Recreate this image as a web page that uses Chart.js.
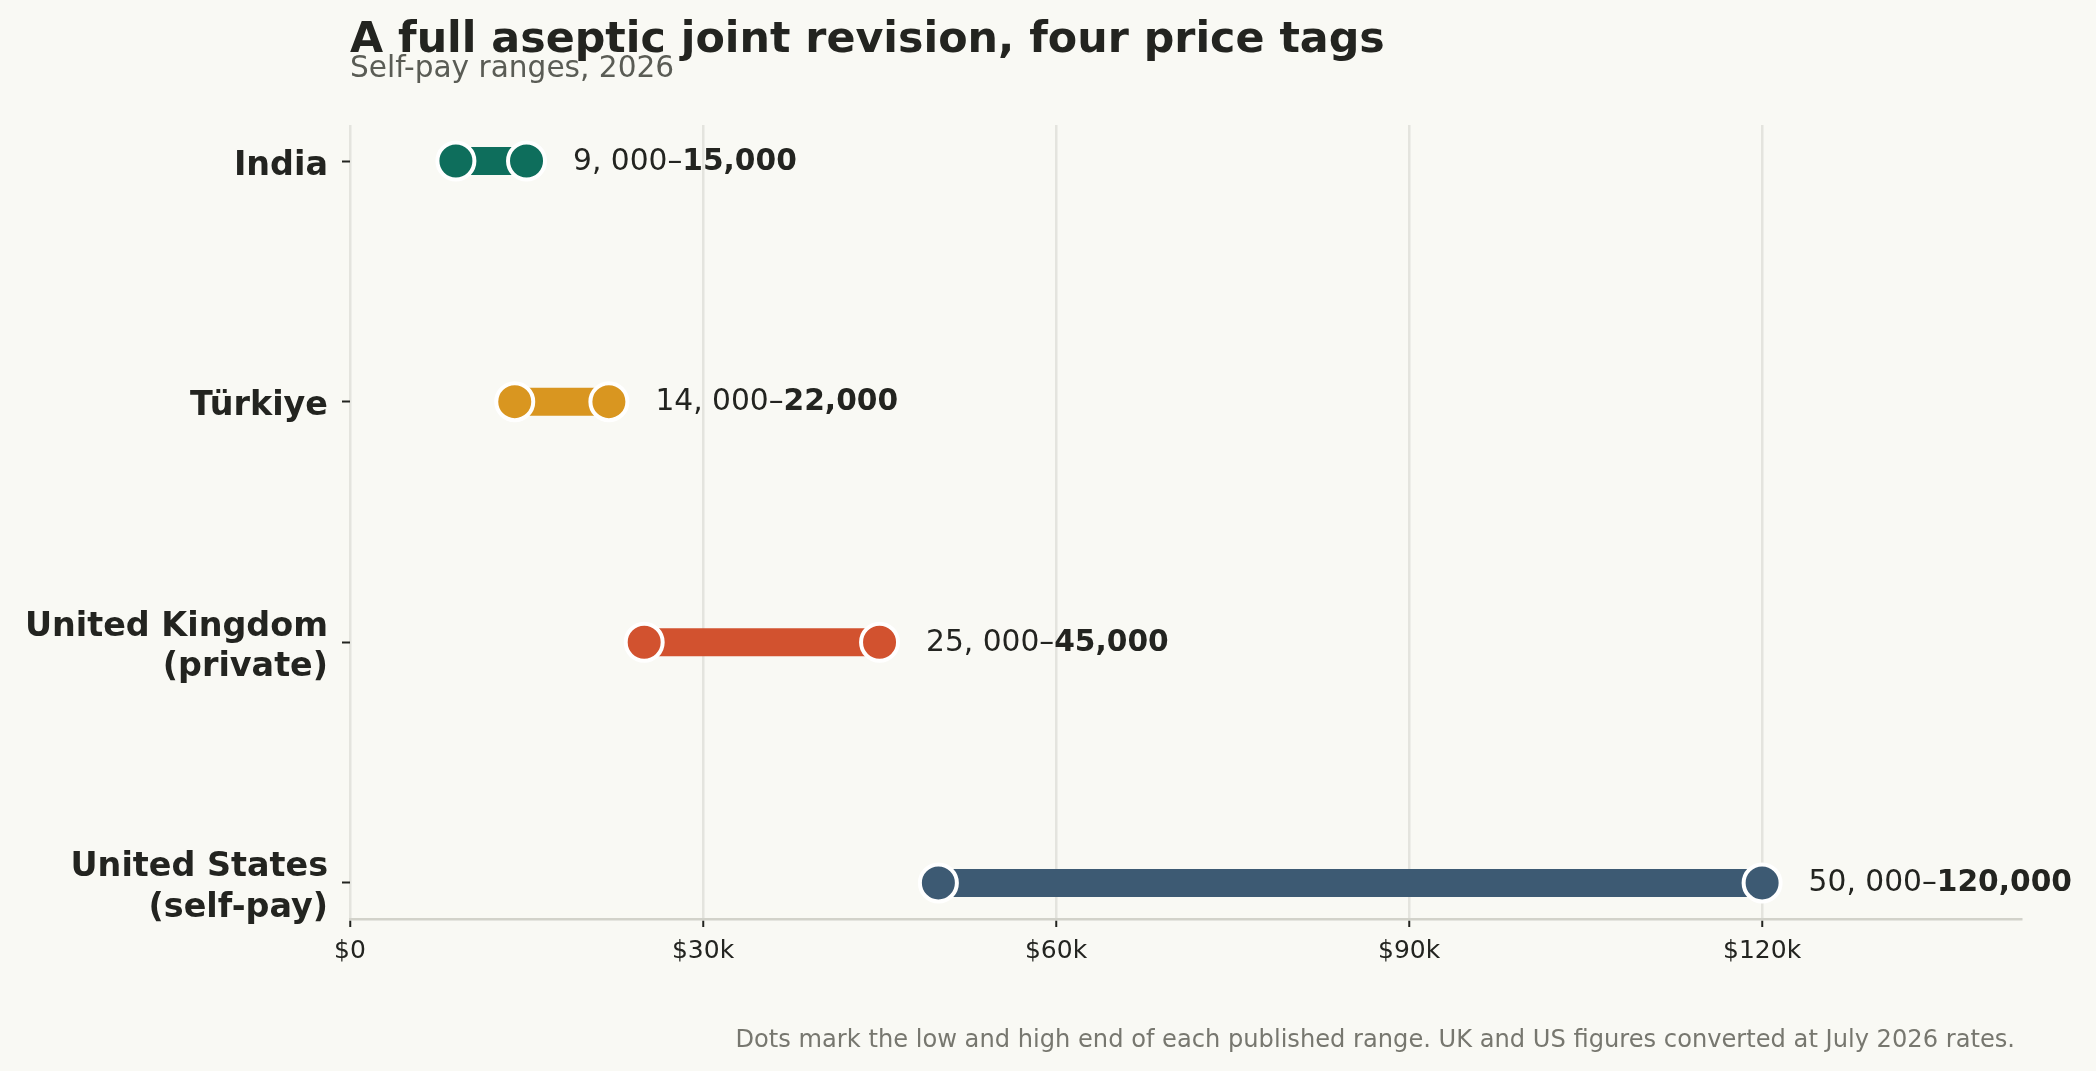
<!DOCTYPE html>
<html>
<head>
<meta charset="utf-8">
<script src="https://cdn.jsdelivr.net/npm/chart.js@4.4.1/dist/chart.umd.min.js"></script>
<style>
  html, body { margin: 0; padding: 0; background: #f9f9f4; }
  #wrap { width: 2096px; height: 1071px; position: relative; }
</style>
</head>
<body>
<div id="wrap"><canvas id="c"></canvas></div>
<script>
// ---- data ----
const categories = ['India', 'Türkiye', 'United Kingdom (private)', 'United States (self-pay)'];
const categoryLabelLines = [['India'], ['Türkiye'], ['United Kingdom', '(private)'], ['United States', '(self-pay)']];
const lowValues = [9000, 14000, 25000, 50000];
const highValues = [15000, 22000, 45000, 120000];
const xTickValues = [0, 30000, 60000, 90000, 120000];
const xTickLabels = ['$0', '$30k', '$60k', '$90k', '$120k'];
const titleText = 'A full aseptic joint revision, four price tags';
const subtitleText = 'Self-pay ranges, 2026';
const footerText = 'Dots mark the low and high end of each published range. UK and US figures converted at July 2026 rates.';

// ---- styles ----
const seriesColors = ['#0e6e5c', '#d99620', '#d2522f', '#3d5a73'];
const FONT = "'DejaVu Sans', 'Liberation Sans', sans-serif";
const INK = '#232420';

Chart.defaults.font.family = FONT;

const barDatasets = categories.map((c, i) => ({
  type: 'line',
  label: c,
  data: [{ x: lowValues[i], y: i }, { x: highValues[i], y: i }],
  showLine: true,
  borderColor: seriesColors[i],
  backgroundColor: seriesColors[i],
  borderWidth: 28,
  borderCapStyle: 'butt',
  pointRadius: 0,
  pointHoverRadius: 0,
  order: 1,
  clip: false
}));

const dotStyle = {
  type: 'scatter',
  showLine: false,
  pointRadius: 18.5,
  pointHoverRadius: 18.5,
  pointBorderColor: '#ffffff',
  pointBorderWidth: 4,
  pointBackgroundColor: seriesColors,
  order: 0,
  clip: false
};
const lowDots = Object.assign({ label: 'Low', data: lowValues.map((v, i) => ({ x: v, y: i })) }, dotStyle);
const highDots = Object.assign({ label: 'High', data: highValues.map((v, i) => ({ x: v, y: i })) }, dotStyle);

const rangeLabels = {
  id: 'rangeLabels',
  afterDatasetsDraw(chart) {
    const { ctx, scales } = chart;
    const xs = scales.x, ys = scales.y;
    ctx.save();
    ctx.textBaseline = 'alphabetic';
    ctx.textAlign = 'left';
    ctx.fillStyle = INK;
    categories.forEach((c, i) => {
      const x = xs.getPixelForValue(highValues[i]) + 46.5;
      const y = ys.getPixelForValue(i) + 8.5;
      const lowTxt = lowValues[i].toLocaleString('en-US').replace(',', ', ') + '–';
      const highTxt = highValues[i].toLocaleString('en-US');
      ctx.font = 'normal 29.7px ' + FONT;
      ctx.fillText(lowTxt, x, y);
      const w = ctx.measureText(lowTxt).width;
      ctx.font = 'bold 29.7px ' + FONT;
      ctx.fillText(highTxt, x + w, y);
    });
    ctx.restore();
  }
};

const footer = {
  id: 'footer',
  afterDraw(chart) {
    const { ctx } = chart;
    ctx.save();
    ctx.font = 'normal 24.15px ' + FONT;
    ctx.fillStyle = '#77776f';
    ctx.textAlign = 'right';
    ctx.textBaseline = 'alphabetic';
    ctx.fillText(footerText, chart.width - 81, chart.height - 24.3);
    ctx.restore();
  }
};

new Chart(document.getElementById('c'), {
  type: 'scatter',
  data: { datasets: [lowDots, highDots, ...barDatasets] },
  options: {
    responsive: true,
    maintainAspectRatio: false,
    animation: false,
    events: [],
    layout: { padding: { top: 0, right: 75, bottom: 0, left: 0 } },
    plugins: {
      legend: { display: false },
      tooltip: { enabled: false },
      title: {
        display: true,
        text: titleText,
        align: 'start',
        fullSize: false,
        color: INK,
        font: { size: 42.8, weight: 'bold', lineHeight: 0.7 },
        padding: { top: 25.85, bottom: 0 }
      },
      subtitle: {
        display: true,
        text: subtitleText,
        align: 'start',
        fullSize: false,
        color: '#5a5c55',
        font: { size: 29.6, weight: 'normal', lineHeight: 0.8 },
        padding: { top: 1.85, bottom: 43.6 }
      }
    },
    scales: {
      x: {
        type: 'linear',
        position: 'bottom',
        min: 0,
        max: 142000,
        afterBuildTicks: (s) => { s.ticks = xTickValues.map(v => ({ value: v })); },
        afterFit: (s) => { s.height = 152; },
        ticks: {
          callback: (v) => xTickLabels[xTickValues.indexOf(v)],
          color: INK,
          font: { size: 25 },
          padding: 9,
          maxRotation: 0
        },
        grid: {
          color: '#e4e4de',
          lineWidth: 2.5,
          drawTicks: true,
          tickLength: 8,
          tickColor: INK,
          tickWidth: 2
        },
        border: { display: true, color: '#d2d2ca', width: 2.5 }
      },
      y: {
        type: 'linear',
        position: 'left',
        min: -0.15,
        max: 3.15,
        reverse: true,
        afterBuildTicks: (s) => { s.ticks = categories.map((c, i) => ({ value: i })); },
        afterFit: (s) => { s.width = 350; },
        ticks: {
          callback: (v) => categoryLabelLines[v],
          color: INK,
          font: { size: 33.4, weight: 'bold', lineHeight: 1.22 },
          padding: 14,
          labelOffset: 5
        },
        grid: {
          drawOnChartArea: false,
          drawTicks: true,
          tickLength: 8,
          tickColor: INK,
          tickWidth: 2
        },
        border: { display: false }
      }
    }
  },
  plugins: [rangeLabels, footer]
});
</script>
</body>
</html>
